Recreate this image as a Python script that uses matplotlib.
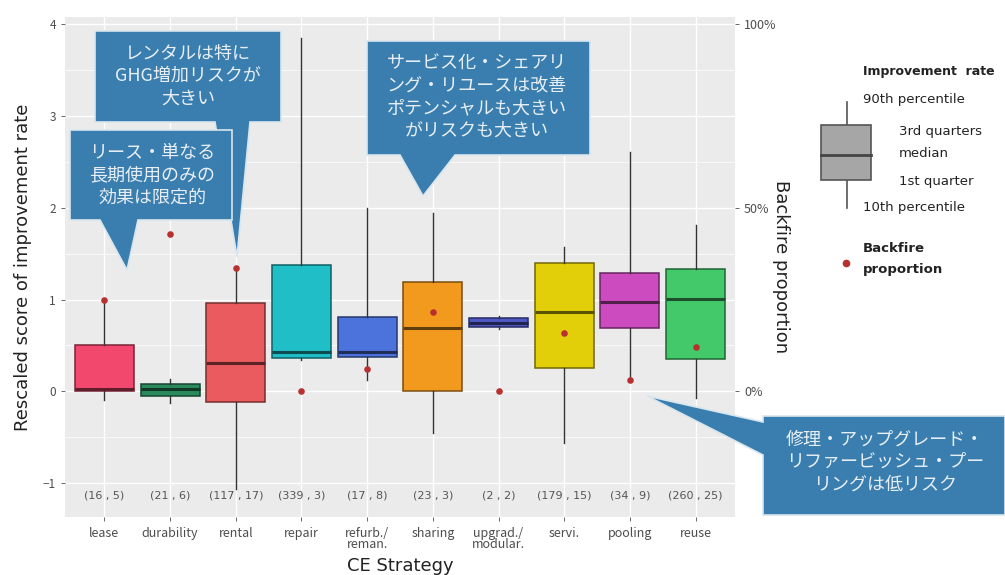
import matplotlib
matplotlib.use("Agg")
import matplotlib.pyplot as plt
import numpy as np
from matplotlib.patches import Polygon, Rectangle
from matplotlib.lines import Line2D
from matplotlib.ticker import FuncFormatter

plt.rcParams['font.family'] = ['Noto Sans CJK JP', 'DejaVu Sans']

strategies = ['lease', 'durability', 'rental', 'repair', 'refurb./\nreman.', 'sharing',
              'upgrad./\nmodular.', 'servi.', 'pooling', 'reuse']
counts = ['(16 , 5)', '(21 , 6)', '(117 , 17)', '(339 , 3)', '(17 , 8)', '(23 , 3)',
          '(2 , 2)', '(179 , 15)', '(34 , 9)', '(260 , 25)']
p10 = [-0.10, -0.13, -1.06, 0.34, 0.12, -0.45, 0.68, -0.56, 0.12, -0.07]
q1 = [0.00, -0.05, -0.12, 0.36, 0.37, 0.00, 0.70, 0.25, 0.69, 0.35]
med = [0.03, 0.03, 0.31, 0.43, 0.43, 0.69, 0.75, 0.86, 0.97, 1.01]
q3 = [0.50, 0.08, 0.96, 1.38, 0.81, 1.19, 0.80, 1.40, 1.29, 1.33]
p90 = [1.00, 0.13, 1.34, 3.85, 2.00, 1.94, 0.82, 1.57, 2.61, 1.81]
backfire = [0.25, 0.43, 0.335, 0.0, 0.06, 0.215, 0.0, 0.158, 0.03, 0.12]
colors = ['#F2486E', '#2A8A5E', '#E95B5E', '#20BFC7', '#4C72DC', '#F29A1E',
          '#5058C4', '#E2CF0A', '#CC4BBE', '#44C96A']

W, H = 1005, 575
fig = plt.figure(figsize=(W / 100, H / 100), dpi=100)
ax = fig.add_axes([65 / W, 1 - 517 / H, 670 / W, 500 / H])
ax.set_facecolor('#EBEBEB')
for s in ax.spines.values():
    s.set_visible(False)

x = np.arange(1, len(strategies) + 1)
ylo, yhi = -1.37, 4.08


def darker(c, f):
    rgb = np.array(matplotlib.colors.to_rgb(c))
    return tuple(rgb * f)


stats = []
for i in range(len(strategies)):
    stats.append(dict(whislo=p10[i], q1=q1[i], med=med[i], q3=q3[i], whishi=p90[i], fliers=[]))
bp = ax.bxp(stats, positions=x, widths=0.9, patch_artist=True, showcaps=False,
            manage_ticks=False,
            whiskerprops=dict(color='#333333', lw=1.0),
            medianprops=dict(lw=2.2))
for i, b in enumerate(bp['boxes']):
    b.set_facecolor(colors[i])
    b.set_edgecolor(darker(colors[i], 0.5))
    b.set_linewidth(1.1)
    bp['medians'][i].set_color(darker(colors[i], 0.4))

ax.set_yticks([-1, 0, 1, 2, 3, 4])
ax.set_yticks(np.arange(-1.5, 4.1, 0.5), minor=True)
ax.set_xticks(x)
ax.set_xticklabels(strategies, fontsize=9, color='#4D4D4D', linespacing=0.85)
ax.set_xlim(0.4, len(strategies) + 0.6)
ax.set_ylim(ylo, yhi)
ax.tick_params(axis='y', labelsize=8.5, colors='#4D4D4D', length=3, width=0.6)
ax.tick_params(axis='x', colors='#4D4D4D', length=3, width=0.6, pad=4)
ax.tick_params(which='minor', length=0)
ax.grid(True, which='major', color='white', lw=1.0)
ax.grid(True, which='minor', axis='y', color='white', lw=0.5)
ax.set_axisbelow(True)

for i, c in enumerate(counts):
    ax.text(x[i], -1.14, c, ha='center', va='center', fontsize=8, color='#555555',
            family=['DejaVu Sans'])

ax.set_xlabel('CE Strategy', fontsize=13, color='#222222', labelpad=4, family=['DejaVu Sans'])
ax.set_ylabel('Rescaled score of improvement rate', fontsize=13, color='#222222', labelpad=8,
              family=['DejaVu Sans'])

ax2 = ax.twinx()
ax2.set_ylim(ylo / 4, yhi / 4)
ax2.set_yticks([0, 0.5, 1.0])
ax2.yaxis.set_major_formatter(FuncFormatter(lambda v, p: '%d%%' % round(v * 100)))
ax2.tick_params(axis='y', labelsize=9, colors='#4D4D4D', length=3, width=0.6)
for s in ax2.spines.values():
    s.set_visible(False)
ax2.scatter(x, backfire, s=14, color='#B8312F', zorder=5)
ax2.set_ylabel('Backfire proportion', rotation=-90, fontsize=13, color='#222222', labelpad=10,
               family=['DejaVu Sans'])


def px(pts):
    return [(a / W, 1 - b / H) for a, b in pts]


callout_fc = '#3A7EAF'
callout_ec = '#D8E6EE'
callouts = [
    ([(95, 31), (281, 31), (281, 122), (250, 122), (237, 257), (215, 122), (95, 122)],
     'レンタルは特に\nGHG増加リスクが\n大きい', (188, 76)),
    ([(70, 130), (232, 130), (232, 220), (138, 220), (127, 270), (100, 220), (70, 220)],
     'リース・単なる\n長期使用のみの\n効果は限定的', (152, 175)),
    ([(367, 41), (590, 41), (590, 155), (455, 155), (423, 196), (400, 155), (367, 155)],
     'サービス化・シェアリ\nング・リユースは改善\nポテンシャルも大きい\nがリスクも大きい', (477, 97)),
    ([(763, 416), (1005, 416), (1005, 515), (763, 515), (763, 455), (647, 396), (763, 422)],
     '修理・アップグレード・\nリファービッシュ・プー\nリングは低リスク', (885, 462)),
]
for pts, txt, pos in callouts:
    fig.patches.append(Polygon(px(pts), closed=True, transform=fig.transFigure,
                               facecolor=callout_fc, edgecolor=callout_ec, lw=1.2, zorder=10))
    fig.text(pos[0] / W, 1 - pos[1] / H, txt, ha='center', va='center', fontsize=13,
             color='#E8EFF4', linespacing=1.3, zorder=11)

# legend drawn by hand
fig.lines.append(Line2D([847 / W, 847 / W], [1 - 102 / H, 1 - 208 / H],
                        transform=fig.transFigure, color='#555555', lw=1.2))
fig.patches.append(Rectangle((821 / W, 1 - 180 / H), 50 / W, 55 / H, transform=fig.transFigure,
                             facecolor='#A6A6A6', edgecolor='#555555', lw=1.2, zorder=2))
fig.lines.append(Line2D([821 / W, 871 / W], [1 - 155 / H, 1 - 155 / H],
                        transform=fig.transFigure, color='#444444', lw=2, zorder=3))
leg_txt = [('Improvement  rate', 863, 72, 'bold', 9), ('90th percentile', 863, 100, 'normal', 9.5),
           ('3rd quarters', 899, 132, 'normal', 9.5), ('median', 899, 154, 'normal', 9.5),
           ('1st quarter', 899, 181, 'normal', 9.5), ('10th percentile', 863, 208, 'normal', 9.5),
           ('Backfire', 863, 248, 'bold', 9.5), ('proportion', 863, 270, 'bold', 9.5)]
for t, lx, ly, w, fs in leg_txt:
    fig.text(lx / W, 1 - ly / H, t, ha='left', va='center', fontsize=fs, fontweight=w,
             color='#222222', family=['DejaVu Sans'])
fig.lines.append(Line2D([846 / W], [1 - 263 / H], transform=fig.transFigure, marker='o',
                        ms=4.5, color='#B8312F', lw=0))

fig.savefig('out.png', dpi=100)
